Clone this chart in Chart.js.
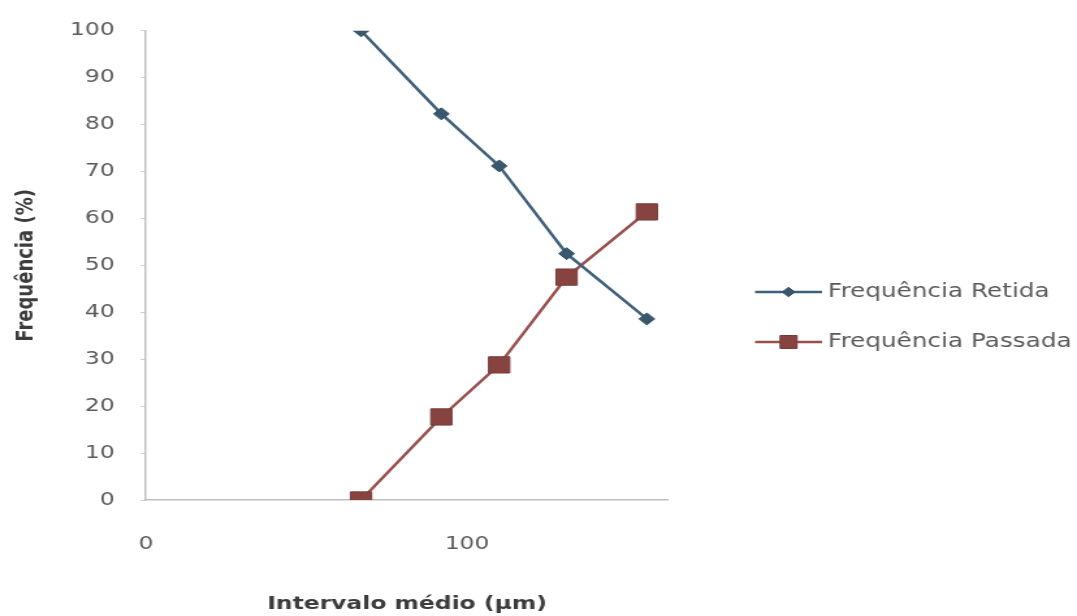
<!DOCTYPE html>
<html>
<head>
<meta charset="utf-8">
<script src="https://cdn.jsdelivr.net/npm/chart.js@4.4.1/dist/chart.umd.min.js"></script>
<style>
  html, body { margin: 0; padding: 0; background: #ffffff; overflow: hidden; }
  /* the chart is laid out on a narrower canvas and widened horizontally */
  #wrap { position: absolute; left: 0; top: 0; width: 828px; height: 616px;
          transform-origin: 0 0; transform: scaleX(1.30072); }
</style>
</head>
<body>
<div id="wrap"><canvas id="chart"></canvas></div>
<script>
// Mean sieve interval (µm) and cumulative frequencies (%)
const intervals = [67, 92, 110, 131, 156];
const retida   = [100, 82.3, 71.2, 52.5, 38.6];
const passada  = [0, 17.7, 28.8, 47.5, 61.4];
const seriesNames = ['Frequência Retida', 'Frequência Passada'];
const xTickValues = [0, 100];
const yTickValues = [0, 10, 20, 30, 40, 50, 60, 70, 80, 90, 100];
const xTitle = 'Intervalo médio (µm)';
const yTitle = 'Frequência (%)';

const FONT = '"DejaVu Sans", "Liberation Sans", sans-serif';
const toPoints = ys => intervals.map((x, i) => ({ x: x, y: ys[i] }));

// Legend drawn at the right: a short line with the series marker, then the name
const sideLegend = {
  id: 'sideLegend',
  afterDraw(chart, args, opts) {
    const ctx = chart.ctx;
    chart.data.datasets.forEach((ds, i) => {
      const y = opts.top + i * opts.spacing;
      ctx.save();
      ctx.strokeStyle = ds.borderColor;
      ctx.lineWidth = ds.borderWidth;
      ctx.beginPath();
      ctx.moveTo(opts.x0, y);
      ctx.lineTo(opts.x1, y);
      ctx.stroke();
      ctx.fillStyle = ds.pointBackgroundColor;
      ctx.strokeStyle = ds.pointBorderColor;
      ctx.lineWidth = 1;
      const cx = (opts.x0 + opts.x1) / 2;
      if (Chart.helpers && Chart.helpers.drawPoint) {
        Chart.helpers.drawPoint(ctx, { pointStyle: ds.pointStyle, radius: ds.pointRadius * opts.markerScale, borderWidth: 1, rotation: 0 }, cx, y);
      }
      ctx.fillStyle = opts.color;
      ctx.font = opts.font;
      ctx.textAlign = 'left';
      ctx.textBaseline = 'middle';
      ctx.fillText(ds.label, opts.textX, y);
      ctx.restore();
    });
  }
};

new Chart(document.getElementById('chart'), {
  type: 'scatter',
  data: {
    datasets: [
      {
        label: seriesNames[0],
        data: toPoints(retida),
        showLine: true,
        borderColor: '#3e6079',
        borderWidth: 2.5,
        pointStyle: 'rectRot',
        pointRadius: 6,
        pointBackgroundColor: '#395870',
        pointBorderColor: '#344f63',
        pointBorderWidth: 1
      },
      {
        label: seriesNames[1],
        data: toPoints(passada),
        showLine: true,
        borderColor: '#98504d',
        borderWidth: 2.5,
        pointStyle: 'rect',
        pointRadius: 11.5,
        pointBackgroundColor: '#864340',
        pointBorderColor: '#7a3c3a',
        pointBorderWidth: 1
      }
    ]
  },
  options: {
    responsive: true,
    maintainAspectRatio: false,
    animation: false,
    devicePixelRatio: 1,
    layout: { padding: { top: 25, right: 314.4, left: 0, bottom: 0 } },
    plugins: {
      legend: { display: false },
      tooltip: { enabled: false },
      sideLegend: {
        x0: 580.5, x1: 632, textX: 636.6, top: 292, spacing: 50,
        markerScale: 0.8,
        font: '19px ' + FONT, color: '#5a5a5a'
      }
    },
    scales: {
      x: {
        type: 'linear',
        min: 0,
        max: 162.6,
        afterBuildTicks: s => { s.ticks = xTickValues.map(v => ({ value: v })); },
        afterFit: s => { s.height = 116; },
        grid: { display: true, drawOnChartArea: false, drawTicks: false },
        border: { display: true, color: '#c0c0c0', width: 1.5 },
        ticks: { padding: 34, color: '#5a5a5a', maxRotation: 0, font: { family: FONT, size: 18 } },
        title: {
          display: true, text: xTitle, color: '#3c3c3c',
          font: { family: FONT, size: 18, weight: 'bold' },
          padding: { top: 0, bottom: 1 }
        }
      },
      y: {
        type: 'linear',
        min: 0,
        max: 100,
        afterBuildTicks: s => { s.ticks = yTickValues.map(v => ({ value: v })); },
        afterFit: s => { s.width = 112.2; },
        grid: { display: true, drawOnChartArea: false, drawTicks: true, tickLength: 4, color: '#cccccc' },
        border: { display: true, color: '#c0c0c0', width: 1.5 },
        ticks: { padding: 20, color: '#5a5a5a', font: { family: FONT, size: 18 } },
        title: {
          display: true, text: yTitle, color: '#3c3c3c',
          font: { family: FONT, size: 18, weight: 'bold' },
          padding: { top: 10, bottom: 0 }
        }
      }
    }
  },
  plugins: [sideLegend]
});
</script>
</body>
</html>
